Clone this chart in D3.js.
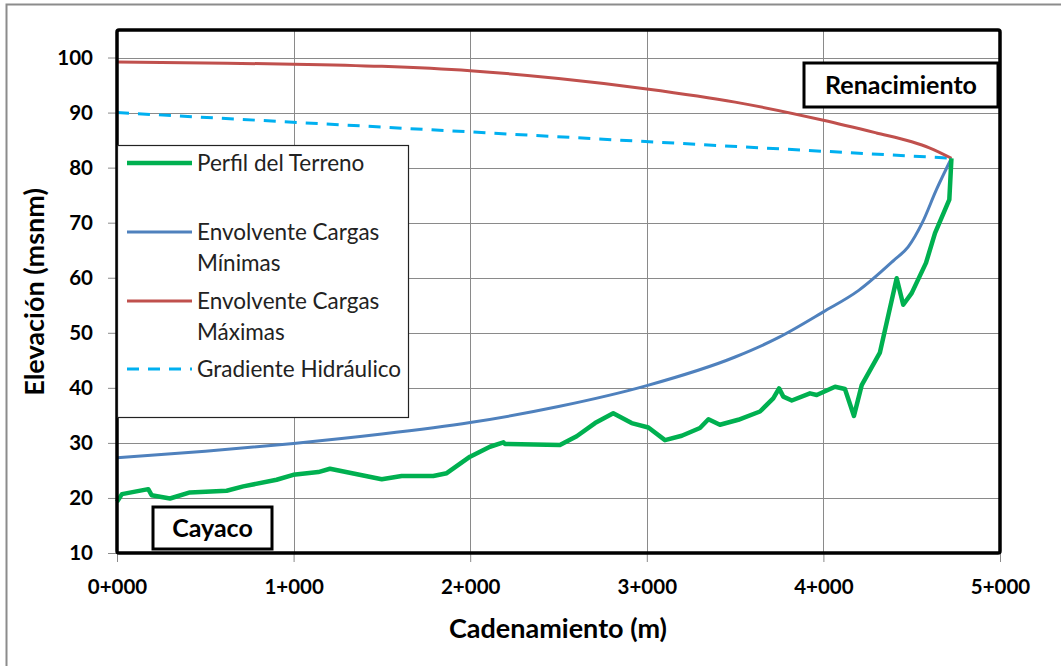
<!DOCTYPE html>
<html>
<head>
<meta charset="utf-8">
<script src="https://cdn.jsdelivr.net/npm/d3@7"></script>
<style>
  html, body { margin: 0; padding: 0; background: #fff; }
  svg { display: block; font-family: Lato, "Open Sans", sans-serif; }
</style>
</head>
<body>
<svg id="chart" width="1061" height="666"></svg>
<script>
// Chainage (m) and elevation (msnm) of each profile
const terrenoX = [0, 28, 177, 196, 300, 413, 621, 715, 904, 998, 1140, 1206, 1499, 1612, 1791, 1867, 1999, 2112, 2188, 2197, 2508, 2603, 2707, 2810, 2914, 3009, 3103, 3198, 3301, 3349, 3414, 3518, 3641, 3716, 3749, 3773, 3821, 3924, 3962, 4066, 4122, 4173, 4217, 4320, 4415, 4452, 4500, 4581, 4632, 4713, 4725];
const terrenoY = [19.3, 20.7, 21.6, 20.5, 19.9, 21.0, 21.3, 22.1, 23.3, 24.2, 24.7, 25.3, 23.4, 24.0, 24.0, 24.5, 27.5, 29.3, 30.1, 29.8, 29.6, 31.2, 33.6, 35.4, 33.6, 32.8, 30.5, 31.3, 32.7, 34.3, 33.3, 34.2, 35.7, 38.1, 39.9, 38.4, 37.7, 39.0, 38.7, 40.2, 39.8, 34.9, 40.5, 46.4, 59.9, 55.1, 57.2, 62.7, 68.1, 74.2, 81.7];

const minimasX = [0, 500, 1000, 1500, 2000, 2500, 3000, 3500, 3750, 4000, 4200, 4400, 4480, 4560, 4640, 4725];
const minimasY = [27.3, 28.5, 29.9, 31.6, 33.7, 36.6, 40.4, 45.6, 49.2, 53.8, 57.7, 63.2, 65.6, 70.0, 76.0, 81.7];

const maximasX = [0, 500, 1000, 1500, 2000, 2500, 3000, 3500, 4000, 4300, 4500, 4600, 4725];
const maximasY = [99.2, 99.0, 98.8, 98.4, 97.6, 96.2, 94.3, 91.9, 88.6, 86.3, 84.7, 83.6, 81.7];

const gradienteX = [0, 4725];
const gradienteY = [90.0, 81.7];

const xTicks = [0, 1000, 2000, 3000, 4000, 5000];
const xTickLabels = ["0+000", "1+000", "2+000", "3+000", "4+000", "5+000"];
const yTicks = [10, 20, 30, 40, 50, 60, 70, 80, 90, 100];

const seriesNames = ["Perfil del Terreno", "Envolvente Cargas Mínimas", "Envolvente Cargas Máximas", "Gradiente Hidráulico"];

const svg = d3.select("#chart");

// outer chart frame
svg.append("rect").attr("x", 6.5).attr("y", 4.5).attr("width", 1100).attr("height", 700)
  .attr("fill", "#fff").attr("stroke", "#8c8c8c").attr("stroke-width", 2);

const plot = { left: 117, top: 30, right: 1000, bottom: 553 };
const x = d3.scaleLinear().domain([0, 5000]).range([plot.left, plot.right]);
const y = d3.scaleLinear().domain([10, 105]).range([plot.bottom, plot.top]);

// gridlines
const grid = svg.append("g");
grid.selectAll("line.h").data(yTicks.concat([105])).join("line")
  .attr("x1", plot.left).attr("x2", plot.right)
  .attr("y1", d => Math.round(y(d)) + 0.5).attr("y2", d => Math.round(y(d)) + 0.5)
  .attr("stroke", "#8a8a8a").attr("stroke-width", 1);
grid.selectAll("line.v").data(xTicks).join("line")
  .attr("y1", plot.top).attr("y2", plot.bottom)
  .attr("x1", d => Math.round(x(d)) + 0.5).attr("x2", d => Math.round(x(d)) + 0.5)
  .attr("stroke", "#8a8a8a").attr("stroke-width", 1);

// axes
const yAxis = svg.append("g").attr("transform", `translate(${plot.left},0)`)
  .call(d3.axisLeft(y).tickValues(yTicks).tickSize(9).tickPadding(15));
const xAxis = svg.append("g").attr("transform", `translate(0,${plot.bottom})`)
  .call(d3.axisBottom(x).tickValues(xTicks).tickSize(9).tickPadding(17)
    .tickFormat((d, i) => xTickLabels[i]));
[yAxis, xAxis].forEach(a => {
  a.select(".domain").remove();
  a.selectAll(".tick line").attr("stroke", "#8a8a8a");
  a.selectAll(".tick text").attr("fill", "#000").style("font-size", "20.5px")
    .style("font-weight", "700").style("font-family", "Lato, sans-serif");
});

// series lines
const line = d3.line().x(d => x(d[0])).y(d => y(d[1]));
const smooth = d3.line().curve(d3.curveMonotoneX).x(d => x(d[0])).y(d => y(d[1]));
const zip = (a, b) => a.map((v, i) => [v, b[i]]);

svg.append("path").datum(zip(gradienteX, gradienteY)).attr("d", line)
  .attr("fill", "none").attr("stroke", "#00B0F0").attr("stroke-width", 3)
  .attr("stroke-dasharray", "12,9");
svg.append("path").datum(zip(maximasX, maximasY)).attr("d", smooth)
  .attr("fill", "none").attr("stroke", "#C0504D").attr("stroke-width", 3);
svg.append("path").datum(zip(minimasX, minimasY)).attr("d", smooth)
  .attr("fill", "none").attr("stroke", "#4F81BD").attr("stroke-width", 3);
svg.append("path").datum(zip(terrenoX, terrenoY)).attr("d", line)
  .attr("fill", "none").attr("stroke", "#00B050").attr("stroke-width", 4.5)
  .attr("stroke-linejoin", "round");

// plot area border
svg.append("rect").attr("x", plot.left).attr("y", plot.top)
  .attr("width", plot.right - plot.left).attr("height", plot.bottom - plot.top)
  .attr("rx", 2).attr("fill", "none").attr("stroke", "#000").attr("stroke-width", 3.5);

// legend
const lg = svg.append("g");
lg.append("rect").attr("x", 117.5).attr("y", 145.5).attr("width", 291).attr("height", 272)
  .attr("fill", "#fff").attr("stroke", "#222").attr("stroke-width", 1.2);
const legendItems = [
  { name: seriesNames[0], lines: ["Perfil del Terreno"], color: "#00B050", w: 4.5, dash: null, y: 163 },
  { name: seriesNames[1], lines: ["Envolvente Cargas", "Mínimas"], color: "#4F81BD", w: 3, dash: null, y: 232 },
  { name: seriesNames[2], lines: ["Envolvente Cargas", "Máximas"], color: "#C0504D", w: 3, dash: null, y: 301 },
  { name: seriesNames[3], lines: ["Gradiente Hidráulico"], color: "#00B0F0", w: 3, dash: "12,9", y: 369 }
];
legendItems.forEach(it => {
  lg.append("line").attr("x1", 127).attr("x2", 192).attr("y1", it.y).attr("y2", it.y)
    .attr("stroke", it.color).attr("stroke-width", it.w).attr("stroke-dasharray", it.dash);
  it.lines.forEach((t, i) => {
    lg.append("text").attr("x", 197).attr("y", it.y + i * 31).attr("dy", "0.35em")
      .style("font-size", "22.5px").attr("fill", "#222").text(t);
  });
});

// location labels
function label(x0, y0, w, h, text) {
  svg.append("rect").attr("x", x0).attr("y", y0).attr("width", w).attr("height", h)
    .attr("fill", "#fff").attr("stroke", "#000").attr("stroke-width", 3);
  svg.append("text").attr("x", x0 + w / 2).attr("y", y0 + h / 2).attr("dy", "0.35em")
    .attr("text-anchor", "middle").style("font-size", "25px").style("font-weight", "700")
    .text(text);
}
label(804, 63, 194, 44, "Renacimiento");
label(153, 507, 119, 42, "Cayaco");

// axis titles
svg.append("text").attr("x", 558).attr("y", 629).attr("dy", "0.35em").attr("text-anchor", "middle")
  .style("font-size", "27px").style("font-weight", "700").text("Cadenamiento (m)");
svg.append("text").attr("transform", "translate(35,292) rotate(-90)").attr("dy", "0.35em")
  .attr("text-anchor", "middle").style("font-size", "27px").style("font-weight", "700")
  .text("Elevación (msnm)");
</script>
</body>
</html>
